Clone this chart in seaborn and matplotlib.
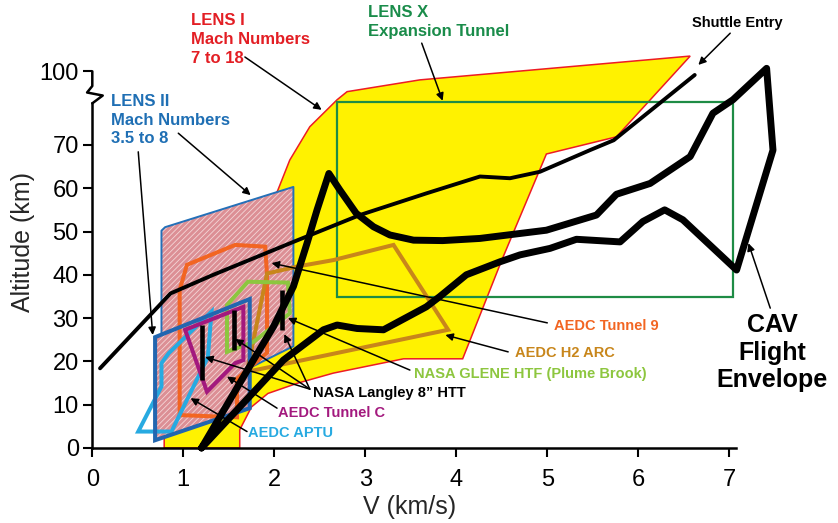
import numpy as np
import pandas as pd
import seaborn as sns
import matplotlib.pyplot as plt

# speed V (km/s) and altitude (km)
lens1_v = [0.79, 1.62, 1.62, 1.75, 1.93, 2.26, 2.65, 3.42, 4.07, 4.50, 4.99, 5.76,
           6.57, 3.60, 2.80, 2.69, 2.39, 2.17, 2.04, 0.79]
lens1_alt = [0.0, 0.0, 4.2, 9.5, 12.6, 15.0, 17.3, 20.6, 20.6, 43.4, 67.9, 73.3,
             106.2, 96.5, 91.7, 88.4, 77.4, 66.5, 59.6, 3.0]

lensx_v = [2.69, 7.04, 7.04, 2.69]
lensx_alt = [34.9, 34.9, 87.6, 87.6]

lens2_v = [0.76, 0.76, 0.80, 2.21, 2.21, 1.73, 1.73, 0.69, 0.69]
lens2_alt = [26.2, 50.2, 51.0, 60.3, 23.5, 18.5, 9.2, 1.8, 25.6]
lens2_core_v = [0.69, 1.73, 1.73, 0.69]
lens2_core_alt = [25.6, 34.4, 9.2, 1.8]

tunnel9_v = [0.96, 0.96, 1.04, 1.57, 1.90, 1.92, 1.92, 1.59, 1.59]
tunnel9_alt = [7.6, 36.5, 42.3, 46.9, 46.5, 40.0, 22.0, 16.0, 7.1]

h2arc_v = [1.70, 1.92, 2.25, 2.65, 3.31, 3.91]
h2arc_alt = [17.6, 40.3, 41.9, 43.4, 46.9, 27.3]

glene_v = [1.48, 1.71, 2.15, 2.17, 1.77, 1.48]
glene_alt = [33.0, 38.4, 38.2, 31.1, 24.5, 22.2]

aptu_v = [0.505, 0.87, 1.27, 1.31, 0.84, 0.76, 0.76]
aptu_alt = [3.8, 3.8, 21.0, 31.5, 21.9, 19.6, 14.2]

tunnelc_v = [1.02, 1.66, 1.66, 1.57, 1.26]
tunnelc_alt = [27.3, 32.6, 20.3, 19.6, 13.0]

langley_v = [1.21, 1.56, 2.08]
langley_lo = [15.7, 22.6, 27.3]
langley_hi = [28.4, 31.9, 36.5]

shuttle_v = [0.085, 0.86, 1.33, 2.21, 2.94, 3.67, 4.26, 4.59, 4.92, 5.47, 5.73, 6.62]
shuttle_alt = [18.4, 35.7, 40.0, 47.6, 53.8, 58.8, 62.7, 62.3, 63.8, 68.8, 71.9, 98.5]

cav_v = [1.20, 1.77, 1.99, 2.21, 2.36, 2.47, 2.60, 2.72, 2.90, 3.09, 3.27, 3.53, 3.85,
         4.26, 4.99, 5.54, 5.76, 6.13, 6.57, 6.82, 7.04, 7.41, 7.48, 7.08, 6.49, 6.29,
         6.05, 5.80, 5.32, 5.03, 4.70, 4.48, 4.11, 3.82, 3.67, 3.20, 2.91, 2.69, 2.54,
         2.10, 1.20]
cav_alt = [0.0, 20.3, 28.0, 37.3, 47.3, 55.0, 63.4, 59.6, 54.2, 51.1, 49.2, 48.0, 47.9,
           48.4, 50.3, 53.8, 58.6, 61.1, 67.3, 82.9, 88.4, 101.2, 68.8, 41.1, 52.7, 55.0,
           52.3, 47.6, 48.2, 46.1, 44.6, 43.0, 40.0, 35.0, 32.6, 27.3, 27.6, 28.4, 27.3,
           20.3, 0.0]

ytick_vals = [0, 10, 20, 30, 40, 50, 60, 70, 100]
xtick_vals = [0, 1, 2, 3, 4, 5, 6, 7]


def squash(alt):
    # the altitude axis is broken above 70 km: 70..100 km takes the room of 17 km
    alt = np.asarray(alt, dtype=float)
    return np.where(alt <= 70, alt, 70 + (alt - 70) * 17 / 30)


sns.set_style('ticks')
plt.rcParams['font.family'] = ['Liberation Sans', 'DejaVu Sans']
plt.rcParams['hatch.linewidth'] = 0.6

fig = plt.figure(figsize=(8.38, 5.23), dpi=100)
ax = fig.add_axes([92.3 / 838, 75 / 523, 745.7 / 838, 448 / 523])
ax.set_xlim(0, 745.7 / 91)
ax.set_ylim(0, 448 / 4.33)

# facility envelopes
ax.fill(lens1_v, squash(lens1_alt), facecolor='#FFF200', edgecolor='#ED1C24', lw=1.1, zorder=1)
ax.fill(lensx_v, squash(lensx_alt), facecolor='none', edgecolor='#1E8C45', lw=1.6, zorder=2)
ax.fill(lens2_v, squash(lens2_alt), facecolor='#DC8F95', edgecolor='#F4D6D8', lw=0,
        hatch='//////', zorder=3)
ax.plot(lens2_v[:6], squash(lens2_alt[:6]), color='#2470B8', lw=1.4, zorder=3.5)

outlines = [
    (tunnel9_v, tunnel9_alt, '#F26522'),
    (h2arc_v, h2arc_alt, '#C8861B'),
    (glene_v, glene_alt, '#8DC63F'),
    (aptu_v, aptu_alt, '#27AAE1'),
    (lens2_core_v, lens2_core_alt, '#2266B0'),
    (tunnelc_v, tunnelc_alt, '#A3197E'),
]
for v, alt, col in outlines:
    ax.fill(v, squash(alt), facecolor='none', edgecolor=col, lw=2.9, zorder=4,
            joinstyle='miter')

ax.vlines(langley_v, langley_lo, langley_hi, color='black', lw=3.3, zorder=6)

shuttle = pd.DataFrame({'V': shuttle_v, 'alt': squash(shuttle_alt)})
sns.lineplot(data=shuttle, x='V', y='alt', sort=False, estimator=None, color='black',
             lw=2.8, ax=ax, zorder=5)
cav = pd.DataFrame({'V': cav_v, 'alt': squash(cav_alt)})
sns.lineplot(data=cav, x='V', y='alt', sort=False, estimator=None, color='black',
             lw=5, ax=ax, zorder=6, clip_on=False)

# labels and arrows
bold = dict(fontweight='bold', fontsize=12, linespacing=1.32)
small = dict(fontweight='bold', fontsize=10.5, va='center')
ax.text(1.08, 100.4, 'LENS I\nMach Numbers\n7 to 18', color='#E31E24', va='top', **bold)
ax.text(3.03, 102.2, 'LENS X\nExpansion Tunnel', color='#1A8C4A', va='top', **bold)
ax.text(0.20, 81.8, 'LENS II\nMach Numbers\n3.5 to 8', color='#1F6FB4', va='top', **bold)
ax.text(6.59, 98.2, 'Shuttle Entry', color='black', **small)
ax.text(5.07, 28.2, 'AEDC Tunnel 9', color='#F26522', **small)
ax.text(4.65, 21.9, 'AEDC H2 ARC', color='#C8861B', **small)
ax.text(3.53, 17.0, 'NASA GLENE HTF (Plume Brook)', color='#8DC63F', **small)
ax.text(2.43, 12.6, 'NASA Langley 8\u201d HTT', color='black', **small)
ax.text(2.04, 8.0, 'AEDC Tunnel C', color='#A3197E', **small)
ax.text(1.71, 3.4, 'AEDC APTU', color='#27AAE1', **small)
ax.text(7.47, 22.0, 'CAV\nFlight\nEnvelope', color='black', fontweight='bold',
        fontsize=18, ha='center', va='center', linespacing=1.18)

arrows = [
    ((1.677, 90.3), (2.52, 84.3)),
    ((3.62, 93.5), (3.85, 88.0)),
    ((7.01, 95.8), (6.66, 102.6)),
    ((0.945, 72.7), (1.74, 58.4)),
    ((0.505, 68.4), (0.664, 26.1)),
    ((7.45, 32.3), (7.21, 47.3)),
    ((5.00, 28.9), (1.97, 42.7)),
    ((4.57, 22.2), (3.88, 26.1)),
    ((3.49, 18.0), (2.15, 30.0)),
    ((2.39, 13.6), (1.24, 21.0)),
    ((2.39, 13.6), (1.57, 25.2)),
    ((2.39, 13.6), (2.11, 26.3)),
    ((2.03, 9.2), (1.48, 16.5)),
    ((1.70, 3.8), (1.08, 11.5)),
]
for tail, tip in arrows:
    ax.annotate('', xy=(tip[0], float(squash(tip[1]))), xytext=tail,
                arrowprops=dict(arrowstyle='-|>', color='black', lw=1.1,
                                mutation_scale=11, shrinkA=0, shrinkB=0),
                annotation_clip=False, zorder=7)

# axes
for side in ['top', 'right']:
    ax.spines[side].set_visible(False)
for side in ['left', 'bottom']:
    ax.spines[side].set_linewidth(1.8)
    ax.spines[side].set_color('black')
ax.spines['bottom'].set_bounds(0, 7.07)
ax.spines['left'].set_bounds(0, 79.6)
# broken axis mark and the piece up to 100 km
ax.plot([0, 0.014, -0.007, 0, 0], [79.6, 81.4, 82.1, 83.6, squash(100)],
        transform=ax.get_yaxis_transform(), color='black', lw=1.8, clip_on=False)

ax.set_xticks(xtick_vals)
ax.set_yticks(squash(ytick_vals))
ax.set_yticklabels([str(t) for t in ytick_vals])
ax.tick_params(axis='both', labelsize=17, length=6.5, width=1.5, color='black',
               labelcolor='black', direction='out')
ax.tick_params(axis='x', pad=8.5)
ax.tick_params(axis='y', pad=3.2)
ax.set_xlabel('V (km/s)', fontsize=18)
ax.set_ylabel('Altitude (km)', fontsize=18)
ax.xaxis.set_label_coords(0.426, -0.105)
ax.yaxis.set_label_coords(-0.077, 0.46)

fig.savefig('out.png', dpi=100, facecolor='white')
